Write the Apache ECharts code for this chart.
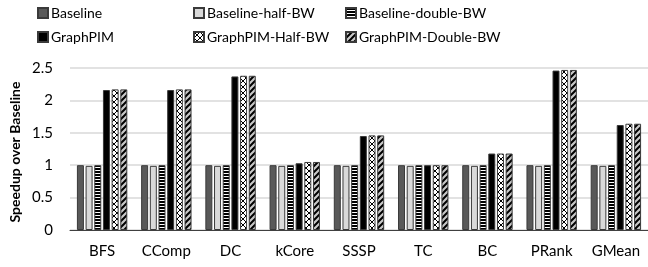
<!DOCTYPE html>
<html>
<head>
<meta charset="utf-8">
<script src="https://cdn.jsdelivr.net/npm/echarts@6/dist/echarts.min.js"></script>
<style>
  html, body { margin: 0; padding: 0; background: #fff; }
  #chart { width: 648px; height: 267px; }
</style>
</head>
<body>
<div id="chart"></div>
<script>
const categories = ['BFS', 'CComp', 'DC', 'kCore', 'SSSP', 'TC', 'BC', 'PRank', 'GMean']
const seriesNames = ['Baseline', 'Baseline-half-BW', 'Baseline-double-BW', 'GraphPIM', 'GraphPIM-Half-BW', 'GraphPIM-Double-BW']
const baseline = [1.0, 1.0, 1.0, 1.0, 1.0, 1.0, 1.0, 1.0, 1.0]
const baselineHalf = [0.99, 0.99, 0.99, 0.99, 0.99, 0.99, 0.99, 0.99, 0.99]
const baselineDouble = [1.0, 1.0, 1.0, 1.0, 1.0, 1.0, 1.0, 1.0, 1.0]
const graphpim = [2.16, 2.16, 2.37, 1.03, 1.45, 1.0, 1.18, 2.46, 1.62]
const graphpimHalf = [2.17, 2.17, 2.38, 1.05, 1.46, 1.0, 1.18, 2.47, 1.64]
const graphpimDouble = [2.17, 2.17, 2.38, 1.05, 1.46, 1.0, 1.18, 2.47, 1.64]
const yTicks = [0, 0.5, 1, 1.5, 2, 2.5]

const font = 'Lato'

function makeTile(w, h, draw) {
  const c = document.createElement('canvas')
  c.width = w
  c.height = h
  draw(c.getContext('2d'))
  return { image: c, repeat: 'repeat' }
}

const hStripes = makeTile(4, 3, ctx => {
  ctx.fillStyle = '#fff'
  ctx.fillRect(0, 0, 4, 3)
  ctx.fillStyle = '#000'
  ctx.fillRect(0, 0, 4, 2)
})
const crossHatch = makeTile(6, 6, ctx => {
  ctx.fillStyle = '#fff'
  ctx.fillRect(0, 0, 6, 6)
  ctx.strokeStyle = '#000'
  ctx.lineWidth = 1
  ctx.beginPath()
  ctx.moveTo(0, 0); ctx.lineTo(6, 6)
  ctx.moveTo(6, 0); ctx.lineTo(0, 6)
  ctx.stroke()
})
const diagStripes = makeTile(6, 6, ctx => {
  ctx.fillStyle = '#c8c8c8'
  ctx.fillRect(0, 0, 6, 6)
  ctx.strokeStyle = '#000'
  ctx.lineWidth = 2
  ctx.beginPath()
  ctx.moveTo(-1, 7); ctx.lineTo(7, -1)
  ctx.moveTo(-1, 1); ctx.lineTo(1, -1)
  ctx.moveTo(5, 7); ctx.lineTo(7, 5)
  ctx.stroke()
})

const fills = ['#595959', '#d9d9d9', hStripes, '#000000', crossHatch, diagStripes]
const values = [baseline, baselineHalf, baselineDouble, graphpim, graphpimHalf, graphpimDouble]

const chart = echarts.init(document.getElementById('chart'))

function legendAt(left, names) {
  return {
    orient: 'vertical',
    left: left,
    top: 5,
    padding: 0,
    itemWidth: 10,
    itemHeight: 10,
    itemGap: 8,
    icon: 'rect',
    data: names,
    textStyle: { fontFamily: font, fontSize: 14, lineHeight: 16, color: '#000', padding: [0, 0, 0, -2] }
  }
}

const option = {
  animation: false,
  legend: [
    legendAt(37, [seriesNames[0], seriesNames[3]]),
    legendAt(193, [seriesNames[1], seriesNames[4]]),
    legendAt(345, [seriesNames[2], seriesNames[5]])
  ],
  graphic: [{
    type: 'text',
    x: 15,
    y: 152,
    rotation: Math.PI / 2,
    style: {
      text: 'Speedup over Baseline',
      font: 'bold 14px Lato',
      fill: '#000',
      align: 'center',
      verticalAlign: 'middle'
    }
  }],
  grid: { left: 70, top: 68, width: 583, height: 162 },
  xAxis: {
    type: 'category',
    data: categories,
    axisTick: { show: false },
    axisLine: { lineStyle: { color: '#404040', width: 1 } },
    axisLabel: { fontFamily: font, fontSize: 15, color: '#000', margin: 14 }
  },
  yAxis: {
    type: 'value',
    min: 0,
    max: 2.5,
    interval: 0.5,
    axisLabel: {
      fontFamily: font, fontSize: 15, color: '#000', margin: 17,
      formatter: v => (yTicks.includes(v) ? String(v) : '')
    },
    axisLine: { show: false },
    axisTick: { show: false },
    splitLine: { lineStyle: { color: '#d9d9d9', width: 1.5 } }
  },
  series: seriesNames.map((name, i) => ({
    name: name,
    type: 'bar',
    data: values[i],
    barWidth: 7,
    barGap: '24%',
    itemStyle: { color: fills[i], borderColor: '#3a3a3a', borderWidth: 1 }
  }))
}

chart.setOption(option)
</script>
</body>
</html>
